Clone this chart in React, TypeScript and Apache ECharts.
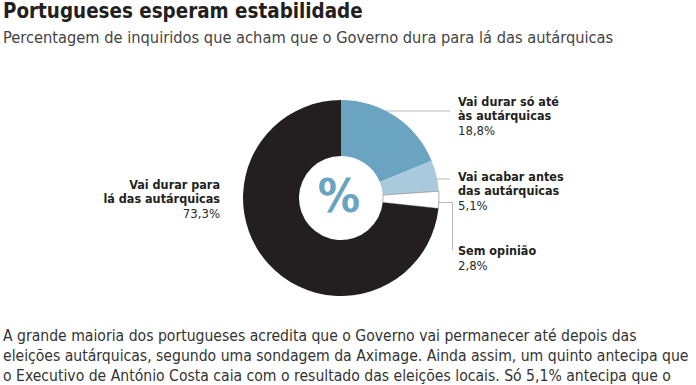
import React, { useEffect, useRef } from "react";
import * as echarts from "echarts";

const TITLE = "Portugueses esperam estabilidade";
const SUBTITLE = "Percentagem de inquiridos que acham que o Governo dura para lá das autárquicas";
const CATEGORIES = [
  "Vai durar só até\nàs autárquicas",
  "Vai acabar antes\ndas autárquicas",
  "Sem opinião",
  "Vai durar para\nlá das autárquicas",
];
const VALUES = [18.8, 5.1, 2.8, 73.3];
const COLORS = ["#6aa4c0", "#a9cadc", "#ffffff", "#231f20"];
const CENTER_TEXT = "%";
const BODY_LINES = [
  "A grande maioria dos portugueses acredita que o Governo vai permanecer até depois das",
  "eleições autárquicas, segundo uma sondagem da Aximage. Ainda assim, um quinto antecipa que",
  "o Executivo de António Costa caia com o resultado das eleições locais. Só 5,1% antecipa que o",
];

const FONT = "'DejaVu Sans Condensed', 'DejaVu Sans', sans-serif";
const CX = 341;
const CY = 198;
const R_IN = 42;
const R_OUT = 98;

const LABEL_LAYOUT: any[] = [
  { x: 458, y: 116, align: "left", line: [[null, 111], [450, 111]] },
  { x: 458, y: 191, align: "left", line: [[null, 179], [450, 179]] },
  { x: 458, y: 258, align: "left", line: [[null, 202.5], [452.5, 202.5], [452.5, 250]] },
  { x: 220, y: 199, align: "right", line: null },
];

const fmt = (v: number) => v.toFixed(1).replace(".", ",") + "%";

export default function App() {
  const ref = useRef<HTMLDivElement>(null);
  useEffect(() => {
    if (!ref.current) return;
    const chart = echarts.init(ref.current, null, { renderer: "svg" });
    const edgeX = (y: number) => CX + Math.sqrt(Math.max(0, R_OUT * R_OUT - (y - CY) * (y - CY)));
    chart.setOption({
      animation: false,
      backgroundColor: "#ffffff",
      series: [
        {
          type: "pie",
          center: [CX, CY],
          radius: [R_IN, R_OUT],
          startAngle: 90,
          clockwise: true,
          avoidLabelOverlap: false,
          data: CATEGORIES.map((name, i) => ({
            name,
            value: VALUES[i],
            itemStyle: {
              color: COLORS[i],
              borderColor: i === 2 ? "#777" : COLORS[i],
              borderWidth: i === 2 ? 0.6 : 0,
            },
            labelLine: { show: i !== 3 },
          })),
          label: {
            show: true,
            position: "outside",
            fontFamily: FONT,
            formatter: (p: any) => {
              const lines = String(p.name).split("\n").map((l: string) => `{b|${l}}`);
              return lines.join("\n") + `\n{v|${fmt(p.value)}}`;
            },
            rich: {
              b: { fontFamily: FONT, fontWeight: "bold", fontSize: 12.5, lineHeight: 14.6, color: "#231f20" },
              v: { fontFamily: FONT, fontSize: 13, lineHeight: 15, color: "#2a2a2a" },
            },
          },
          labelLine: { show: true, lineStyle: { color: "#b8b8b8", width: 1 } },
          labelLayout: (params: any) => {
            const L = LABEL_LAYOUT[params.dataIndex];
            const out: any = { x: L.x, y: L.y, align: L.align, verticalAlign: "middle" };
            if (L.line) {
              const pts = L.line.map((p: any) => [p[0] === null ? edgeX(p[1]) - 1 : p[0], p[1]]);
              if (pts.length === 2) pts.splice(1, 0, [(pts[0][0] + pts[1][0]) / 2, pts[0][1]]);
              out.labelLinePoints = pts;
            }
            return out;
          },
          emphasis: { disabled: true },
        },
      ],
      graphic: [
        {
          type: "text",
          x: 3,
          y: 10.5,
          style: {
            text: TITLE,
            fontFamily: FONT,
            fontWeight: "bold",
            fontSize: 20.4,
            fill: "#231f20",
            verticalAlign: "middle",
          },
        },
        {
          type: "text",
          x: 3,
          y: 37.5,
          style: {
            text: SUBTITLE,
            fontFamily: FONT,
            fontSize: 16.3,
            fill: "#444444",
            verticalAlign: "middle",
          },
        },
        {
          type: "text",
          x: CX - 2,
          y: CY - 3,
          style: {
            text: CENTER_TEXT,
            fontFamily: FONT,
            fontWeight: "bold",
            fontSize: 47,
            fill: "#6aa4c0",
            align: "center",
            verticalAlign: "middle",
          },
        },
        ...BODY_LINES.map((t, i) => ({
          type: "text",
          x: 3,
          y: 336 + i * 20,
          style: {
            text: t,
            fontFamily: FONT,
            fontSize: 15.6,
            fill: "#333333",
            verticalAlign: "middle",
          },
        })),
      ],
    });
    return () => chart.dispose();
  }, []);
  return (
    <div
      ref={ref}
      style={{ position: "fixed", left: 0, top: 0, width: 696, height: 385 }}
    />
  );
}
